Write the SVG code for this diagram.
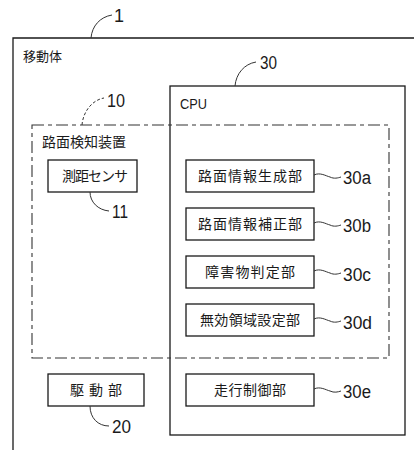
<svg xmlns="http://www.w3.org/2000/svg" width="414" height="450" viewBox="0 0 414 450">
<style>
.ln{fill:none;stroke:#1a1a1a;stroke-width:1.3}
.thin{fill:none;stroke:#333;stroke-width:1}
.box{fill:#fff;stroke:#1a1a1a;stroke-width:1.3}
.dd{fill:none;stroke:#333;stroke-width:1.1;stroke-dasharray:12 4 4 4}
.jp{font-family:"Noto Sans CJK JP","Noto Sans CJK SC",sans-serif;font-size:14px;fill:#1a1a1a}
.lb{font-family:"Liberation Sans",Arial,sans-serif;font-size:18px;fill:#1a1a1a}
.en{font-family:"Liberation Sans",Arial,sans-serif;font-size:14px;fill:#1a1a1a}
</style>
<rect width="414" height="450" fill="#fff"/>
<g id="body1">
<path class="ln" d="M13,450 V38 H414"/>
<text class="jp" x="23" y="61" style="font-size:13px">移動体</text>
</g>
<g id="cpu30">
<rect class="ln" x="170" y="86" width="235" height="349"/>
<text class="en" x="180" y="109" textLength="27" lengthAdjust="spacingAndGlyphs">CPU</text>
</g>
<g id="detector10">
<rect class="dd" x="32" y="125" width="357" height="233"/>
<text class="jp" x="42" y="147">路面検知装置</text>
</g>
<g id="sensor11">
<rect class="box" x="48" y="160" width="89" height="32"/>
<text class="jp" x="95" y="181" text-anchor="middle" textLength="66" lengthAdjust="spacing">測距センサ</text>
</g>
<g id="drive20">
<rect class="box" x="48" y="374" width="96" height="32"/>
<text class="jp" x="96" y="395" text-anchor="middle" textLength="52" lengthAdjust="spacing">駆 動 部</text>
</g>
<g id="unit30a">
<rect class="box" x="186" y="160" width="128" height="32"/>
<text class="jp" x="250" y="181" text-anchor="middle" textLength="104" lengthAdjust="spacing">路面情報生成部</text>
</g>
<g id="unit30b">
<rect class="box" x="186" y="208" width="128" height="32"/>
<text class="jp" x="250" y="229" text-anchor="middle" textLength="104" lengthAdjust="spacing">路面情報補正部</text>
</g>
<g id="unit30c">
<rect class="box" x="186" y="256" width="128" height="32"/>
<text class="jp" x="250" y="277" text-anchor="middle" textLength="90" lengthAdjust="spacing">障害物判定部</text>
</g>
<g id="unit30d">
<rect class="box" x="186" y="304" width="128" height="32"/>
<text class="jp" x="250" y="325" text-anchor="middle" textLength="100" lengthAdjust="spacing">無効領域設定部</text>
</g>
<g id="unit30e">
<rect class="box" x="186" y="374" width="128" height="32"/>
<text class="jp" x="250" y="395" text-anchor="middle" textLength="72" lengthAdjust="spacing">走行制御部</text>
</g>
<g id="connectors">
<path class="thin" d="M91,38 C92,26 100,17 112,15"/>
<path class="thin" d="M235,86 C236,74 244,64 256,62"/>
<path class="thin" stroke-dasharray="3 2" d="M82,125 C83,112 92,100 104,98"/>
<path class="thin" d="M90,192 C90,202 98,210 109,211"/>
<path class="thin" d="M90,406 C90,418 98,426 109,426"/>
<path class="thin" d="M314,175 C320,172 326,176 330,177 C334,179 338,178 341,177"/>
<path class="thin" d="M314,223 C320,220 326,224 330,225 C334,227 338,226 341,225"/>
<path class="thin" d="M314,271 C320,268 326,272 330,273 C334,275 338,274 341,273"/>
<path class="thin" d="M314,319 C320,316 326,320 330,321 C334,323 338,322 341,321"/>
<path class="thin" d="M314,389 C320,386 326,390 330,391 C334,393 338,392 341,391"/>
</g>
<g id="labels">
<text class="lb" x="114" y="22">1</text>
<text class="lb" x="260" y="69" textLength="17" lengthAdjust="spacingAndGlyphs">30</text>
<text class="lb" x="107" y="107" textLength="18" lengthAdjust="spacingAndGlyphs">10</text>
<text class="lb" x="112" y="218" textLength="16" lengthAdjust="spacingAndGlyphs">11</text>
<text class="lb" x="112" y="433" textLength="19" lengthAdjust="spacingAndGlyphs">20</text>
<text class="lb" x="343" y="184" textLength="28" lengthAdjust="spacingAndGlyphs">30a</text>
<text class="lb" x="343" y="232" textLength="28" lengthAdjust="spacingAndGlyphs">30b</text>
<text class="lb" x="343" y="281" textLength="28" lengthAdjust="spacingAndGlyphs">30c</text>
<text class="lb" x="343" y="329" textLength="29" lengthAdjust="spacingAndGlyphs">30d</text>
<text class="lb" x="343" y="398" textLength="28" lengthAdjust="spacingAndGlyphs">30e</text>
</g>
</svg>
